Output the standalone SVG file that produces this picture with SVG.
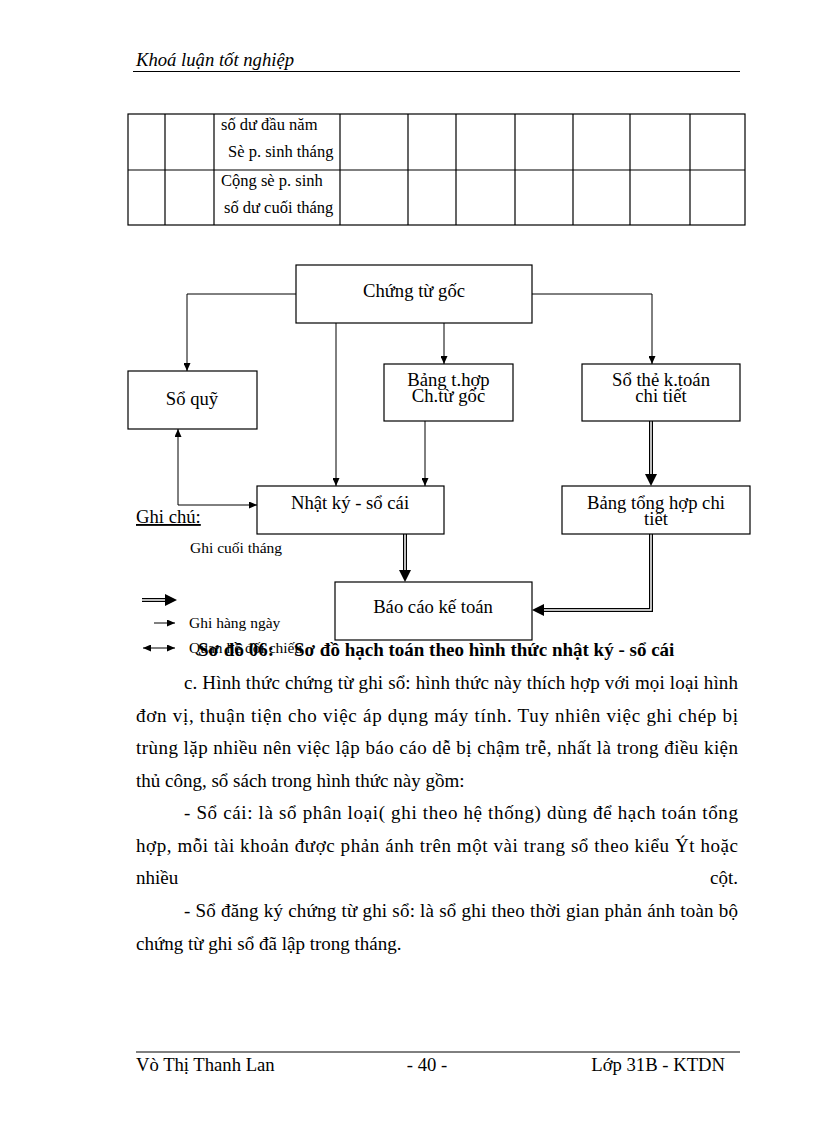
<svg xmlns="http://www.w3.org/2000/svg" width="816" height="1123" viewBox="0 0 816 1123">
<style>
text{font-family:"Liberation Serif","Times New Roman",serif;fill:#000}
.hdr{font-size:18.67px;font-style:italic}
.tb{font-size:16.5px}
.nd{font-size:18.67px;text-anchor:middle}
.lg{font-size:15.5px}
.body{font-size:19px}
.cap{font-size:19px;font-weight:bold}
.ft{font-size:18.67px}
.box{fill:#fff;stroke:#000;stroke-width:1.2}
.grid{fill:none;stroke:#000;stroke-width:1.2}
.c1{fill:none;stroke:#000;stroke-width:1}
.dblk{fill:none;stroke:#000;stroke-width:4;stroke-linejoin:miter}
.dwht{fill:none;stroke:#fff;stroke-width:1.5;stroke-linejoin:miter}
</style>
<defs>
<marker id="a1" markerUnits="userSpaceOnUse" viewBox="0 0 8 7" refX="8" refY="3.5" markerWidth="8" markerHeight="7" orient="auto-start-reverse"><path d="M0,0 L8,3.5 L0,7 z" fill="#000"/></marker>
<marker id="a2" markerUnits="userSpaceOnUse" viewBox="0 0 12 12" refX="0" refY="6" markerWidth="12" markerHeight="12" orient="auto"><path d="M0,0 L12,6 L0,12 z" fill="#000"/></marker>
</defs>
<rect width="816" height="1123" fill="#fff"/>

<g id="header">
<text class="hdr" x="136" y="66">Khoá luận tốt nghiệp</text>
<line x1="133" y1="71.5" x2="740" y2="71.5" stroke="#000" stroke-width="1"/>
</g>

<g id="table">
<rect class="grid" x="128" y="114" width="617" height="111"/>
<line class="grid" x1="128" y1="170" x2="745" y2="170"/>
<path class="grid" d="M165,114V225M214,114V225M340,114V225M408,114V225M456,114V225M515,114V225M573,114V225M630,114V225M690,114V225"/>
<text class="tb" x="221" y="130">số dư đầu năm</text>
<text class="tb" x="228" y="157">Sè p. sinh  tháng</text>
<text class="tb" x="221" y="186">Cộng sè p. sinh</text>
<text class="tb" x="224" y="213">số dư cuối tháng</text>
</g>

<g id="connectors">
<path class="c1" d="M296,294 H187 V371" marker-end="url(#a1)"/>
<path class="c1" d="M336,323 V486" marker-end="url(#a1)"/>
<path class="c1" d="M444,323 V364" marker-end="url(#a1)"/>
<path class="c1" d="M532,294 H652 V364" marker-end="url(#a1)"/>
<path class="c1" d="M425,421 V486" marker-end="url(#a1)"/>
<path class="c1" d="M178,429 V505 H257" marker-start="url(#a1)" marker-end="url(#a1)"/>
<path class="dblk" d="M651,421 V474" marker-end="url(#a2)"/>
<path class="dwht" d="M651,421 V474"/>
<path class="dblk" d="M405,534 V570" marker-end="url(#a2)"/>
<path class="dwht" d="M405,534 V570"/>
<path class="dblk" d="M651,534 V610 H544" marker-end="url(#a2)"/>
<path class="dwht" d="M651,534 V610 H544"/>
</g>

<g id="n-chungtugoc">
<rect class="box" x="296" y="265" width="236" height="58"/>
<text class="nd" x="414" y="297">Chứng từ gốc</text>
</g>
<g id="n-soquy">
<rect class="box" x="128" y="371" width="129" height="58"/>
<text class="nd" x="192" y="405">Sổ quỹ</text>
</g>
<g id="n-bangthop">
<rect class="box" x="384" y="364" width="129" height="57"/>
<text class="nd" x="448.5" y="386">Bảng t.hợp</text>
<text class="nd" x="448.5" y="402">Ch.từ gốc</text>
</g>
<g id="n-sothe">
<rect class="box" x="582" y="364" width="158" height="57"/>
<text class="nd" x="661" y="386">Sổ thẻ k.toán</text>
<text class="nd" x="661" y="402">chi tiết</text>
</g>
<g id="n-nhatky">
<rect class="box" x="257" y="486" width="187" height="48"/>
<text class="nd" x="350" y="509">Nhật ký - sổ cái</text>
</g>
<g id="n-bangtonghop">
<rect class="box" x="562" y="486" width="188" height="48"/>
<text class="nd" x="656" y="509">Bảng tổng hợp chi</text>
<text class="nd" x="656" y="525">tiết</text>
</g>
<g id="n-baocao">
<rect class="box" x="335" y="582" width="197" height="58"/>
<text class="nd" x="433" y="613">Báo cáo kế toán</text>
</g>

<g id="legend">
<text x="136" y="523" style="font-size:18.67px;text-decoration:underline">Ghi chú:</text>
<text class="lg" x="190" y="553">Ghi  cuối  tháng</text>
<path class="dblk" d="M142,600 H165" marker-end="url(#a2)"/>
<path class="dwht" d="M142,600 H165"/>
<path class="c1" d="M154,623 H175" marker-end="url(#a1)"/>
<text class="lg" x="189" y="628">Ghi hàng ngày</text>
<path class="c1" d="M143,648 H175" marker-start="url(#a1)" marker-end="url(#a1)"/>
<text class="lg" x="189" y="653">Quan hệ đối chiếu</text>
</g>

<g id="caption">
<text class="cap" x="198" y="656">Sơ đồ 06:</text>
<text class="cap" x="294" y="656">Sơ đồ hạch toán theo hình thức nhật ký - sổ cái</text>
</g>

<g id="body">
<text class="body" x="184" y="689" textLength="554" lengthAdjust="spacing">c. Hình thức chứng từ ghi sổ: hình thức này thích hợp với mọi loại hình</text>
<text class="body" x="136" y="721.5" textLength="602" lengthAdjust="spacing">đơn vị, thuận tiện cho việc áp dụng máy tính. Tuy nhiên việc ghi chép bị</text>
<text class="body" x="136" y="754" textLength="602" lengthAdjust="spacing">trùng lặp nhiều nên việc lập báo cáo dễ bị chậm trễ, nhất là trong điều kiện</text>
<text class="body" x="136" y="786.5">thủ công, sổ sách trong hình thức này gồm:</text>
<text class="body" x="184" y="819" textLength="554" lengthAdjust="spacing">- Sổ cái: là sổ phân loại( ghi theo hệ thống) dùng để hạch toán tổng</text>
<text class="body" x="136" y="851.5" textLength="602" lengthAdjust="spacing">hợp, mỗi tài khoản được phản ánh trên một vài trang sổ theo kiểu Ýt hoặc</text>
<text class="body" x="136" y="884">nhiều</text>
<text class="body" x="738" y="884" text-anchor="end">cột.</text>
<text class="body" x="184" y="917" textLength="554" lengthAdjust="spacing">- Sổ đăng ký chứng từ ghi sổ: là sổ ghi theo thời gian phản ánh toàn bộ</text>
<text class="body" x="136" y="949.5">chứng từ ghi sổ đã lập trong tháng.</text>
</g>

<g id="footer">
<line x1="136" y1="1052" x2="740" y2="1052" stroke="#000" stroke-width="1"/>
<text class="ft" x="136" y="1071">Vò Thị Thanh Lan</text>
<text class="ft" x="427" y="1071" text-anchor="middle">- 40 -</text>
<text class="ft" x="725" y="1071" text-anchor="end">Lớp 31B - KTDN</text>
</g>
</svg>
